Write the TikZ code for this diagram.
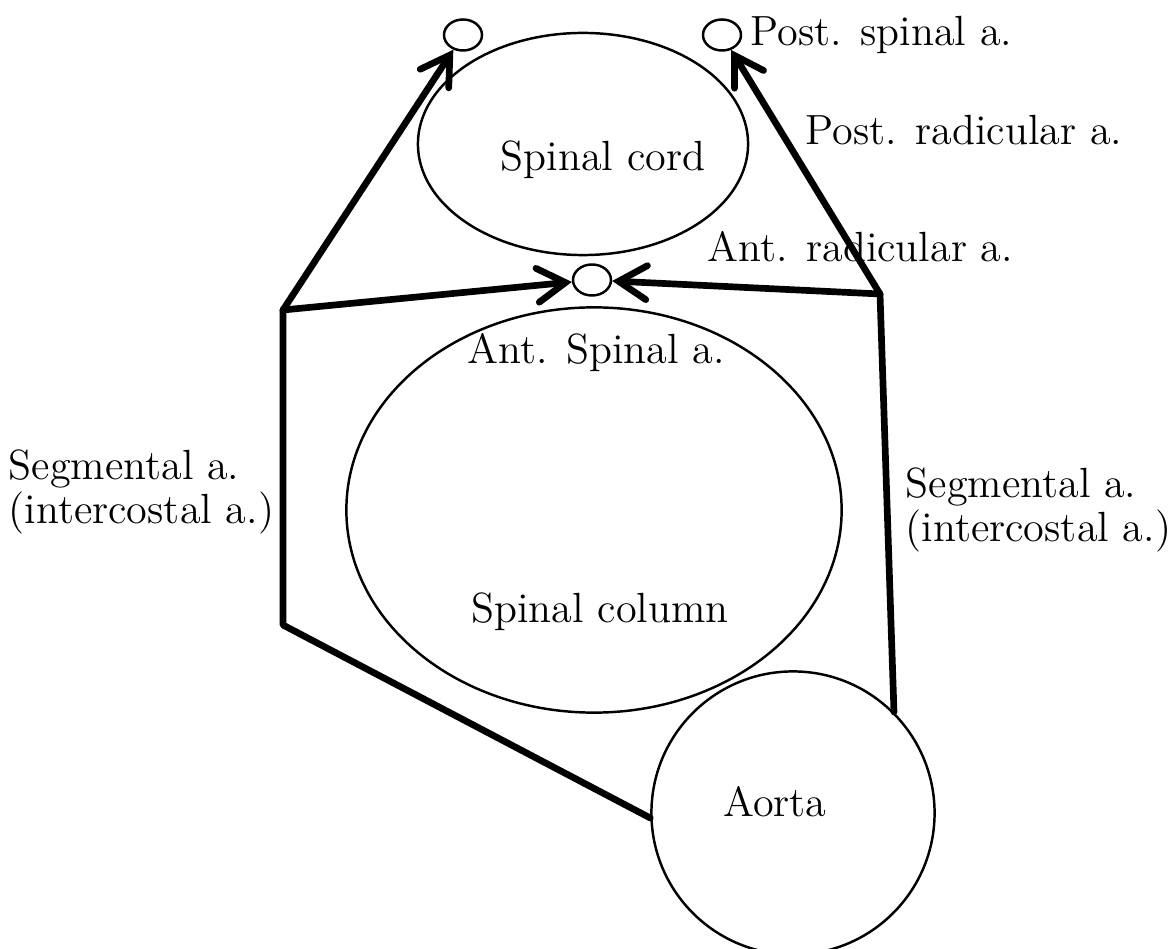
\documentclass[tikz,border=0pt]{standalone}
\usepackage{tikz}
\usetikzlibrary{arrows.meta, positioning, shapes.geometric}

\begin{document}
\begin{tikzpicture}[
        x=0.01cm, y=-0.01cm,
        font=\fontsize{12}{12.5}\selectfont,
        organ/.style={ellipse, draw, line width=0.7pt, inner sep=0pt},
        vessel/.style={ellipse, draw, line width=0.7pt, inner sep=0pt, minimum width=0.38cm, minimum height=0.31cm},
        artery/.style={line width=1.9pt, line cap=round, line join=round},
        arrow/.style={artery, -{Straight Barb[length=0.28cm, width=0.34cm, line cap=round]}},
        txt/.style={inner sep=0pt, align=left}
    ]
    \useasboundingbox (0,0) rectangle (1172,949);

    % Nodes
    \node[organ, minimum width=3.30cm, minimum height=2.22cm] (cord) at (583,144) {};
    \node[organ, minimum width=4.95cm, minimum height=4.05cm] (column) at (594,510) {};
    \node[organ, circle, fill=white, minimum size=2.83cm] (aorta) at (793,813) {};

    \node[vessel] (postl) at (463,35) {};
    \node[vessel] (postr) at (722,35) {};
    \node[vessel] (ant) at (592,280) {};

    % Junctions
    \coordinate (lj) at (283,310);
    \coordinate (lb) at (283,625);
    \coordinate (rj) at (880,294);

    % Segmental arteries
    \draw[artery] (aorta.182) -- (lb) -- (lj);
    \draw[artery] (aorta.45) -- (rj);

    % Radicular arteries
    \draw[arrow] (lj) -- (postl);
    \draw[arrow] (lj) -- (ant);
    \draw[arrow] (rj) -- (postr);
    \draw[arrow] (rj) -- (ant);

    % Labels
    \node[txt] at (603,160) {Spinal cord};
    \node[txt] at (596,353) {Ant. Spinal a.};
    \node[txt] at (600,612) {Spinal column};
    \node[txt] at (775,802) {Aorta};
    \node[txt, anchor=west] at (750,35) {Post. spinal a.};
    \node[txt, anchor=west] at (805,130) {Post. radicular a.};
    \node[txt, anchor=west] at (707,247) {Ant. radicular a.};
    \node[txt, anchor=west] (segl) at (8,492) {Segmental a.\\(intercostal a.)};
    \node[txt, anchor=west] (segr) at (905,510) {Segmental a.\\(intercostal a.)};

\end{tikzpicture}
\end{document}
